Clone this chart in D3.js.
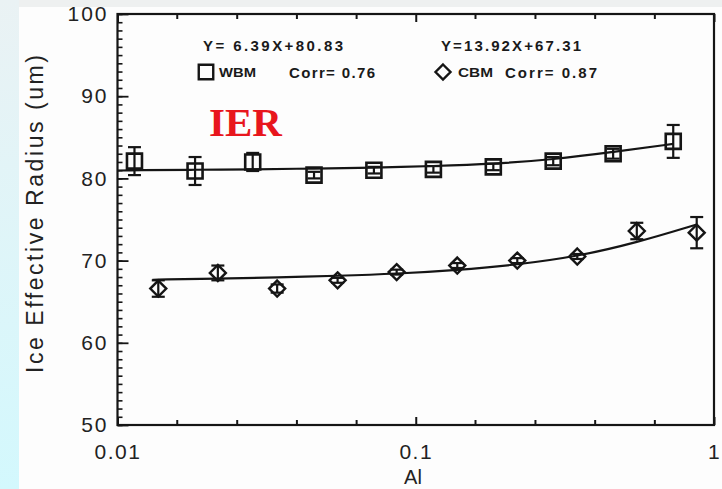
<!DOCTYPE html>
<html>
<head>
  <meta charset="utf-8">
  <script src="https://d3js.org/d3.v7.min.js"></script>
  <style>
    body { margin: 0; background: #fff; }
    svg { display: block; }
  </style>
</head>

<body>
  <svg id="chart"></svg>

  <script>
    // data
    let wbmX = [0.0114, 0.0182, 0.0284, 0.0456, 0.0724, 0.1146, 0.182, 0.289, 0.459, 0.730];
    let wbmY = [82.1, 80.9, 82.0, 80.4, 81.0, 81.1, 81.4, 82.1, 83.0, 84.5];
    let wbmErr = [1.7, 1.7, 1.1, 0.4, 0.4, 0.4, 0.4, 0.5, 0.6, 2.0];
    let wbmFitX = [0.01, 0.0114, 0.0182, 0.0284, 0.0456, 0.0724, 0.1146, 0.182, 0.289, 0.459, 0.730];
    let wbmFitY = [80.95, 81.0, 81.05, 81.1, 81.2, 81.3, 81.5, 81.75, 82.3, 83.2, 84.2];

    let cbmX = [0.0137, 0.0217, 0.0343, 0.0547, 0.0863, 0.1378, 0.219, 0.348, 0.551, 0.875];
    let cbmY = [66.6, 68.5, 66.6, 67.6, 68.6, 69.4, 70.0, 70.5, 73.6, 73.4];
    let cbmErr = [1.0, 0.9, 0.5, 0.3, 0.3, 0.3, 0.3, 0.3, 1.0, 1.9];
    let cbmFitX = [0.0131, 0.0137, 0.0217, 0.0343, 0.0547, 0.0863, 0.1378, 0.219, 0.348, 0.551, 0.875];
    let cbmFitY = [67.65, 67.7, 67.8, 67.95, 68.15, 68.4, 68.85, 69.5, 70.5, 72.2, 74.4];

    // tick values and labels
    let xTicks = [0.01, 0.0158, 0.0251, 0.0398, 0.0631, 0.1, 0.158, 0.251, 0.398, 0.631, 1];
    let xLabels = { 0.01: "0.01", 0.1: "0.1", 1: "1" };
    let yMajor = [50, 60, 70, 80, 90, 100];
    let yMinor = d3.range(50, 101, 1);

    // legend texts
    let wbmEq = "Y= 6.39X+80.83", cbmEq = "Y=13.92X+67.31";
    let wbmCorr = "Corr= 0.76", cbmCorr = "Corr= 0.87";

    let width = 722, height = 489;
    let svg = d3.select("#chart").attr("width", width).attr("height", height);

    // page background: grey strip at top, cyan strip at left
    let defs = svg.append("defs");
    let grad = defs.append("linearGradient").attr("id", "side")
      .attr("x1", 0).attr("y1", 0).attr("x2", 0).attr("y2", 1);
    grad.append("stop").attr("offset", "0%").attr("stop-color", "#eaf2f4");
    grad.append("stop").attr("offset", "100%").attr("stop-color", "#d3f8fd");

    svg.append("rect").attr("width", width).attr("height", height).attr("fill", "#fdfdfd");
    svg.append("rect").attr("width", width).attr("height", 7).attr("fill", "#eef0f0");
    svg.append("rect").attr("width", 19).attr("height", height).attr("fill", "url(#side)");

    // scales
    let x = d3.scaleLog().domain([0.01, 1]).range([117.5, 714]);
    let y = d3.scaleLinear().domain([50, 100]).range([425, 14]);

    let ink = "#151515";
    let tickFont = "'Liberation Sans', Arial, sans-serif";

    // left axis: minor then major ticks, pointing inward
    svg.append("g").attr("transform", `translate(${x.range()[0]},0)`)
      .call(d3.axisLeft(y).tickValues(yMinor).tickSize(-5).tickFormat(""))
      .call(g => g.select(".domain").remove())
      .call(g => g.selectAll("line").attr("stroke", ink).attr("stroke-width", 1.6));

    svg.append("g").attr("transform", `translate(${x.range()[0]},0)`)
      .call(d3.axisLeft(y).tickValues(yMajor).tickSize(-11).tickPadding(9).tickFormat(d3.format("d")))
      .call(g => g.select(".domain").remove())
      .call(g => g.selectAll("line").attr("stroke", ink).attr("stroke-width", 1.8))
      .call(g => g.selectAll("text").attr("fill", "#222").style("font-family", tickFont)
        .style("font-size", "21px").style("letter-spacing", "2px"));

    // bottom axis
    svg.append("g").attr("transform", `translate(0,${y.range()[0]})`)
      .call(d3.axisBottom(x).tickValues(xTicks).tickSize(-5).tickPadding(19)
        .tickFormat(d => xLabels[d] || ""))
      .call(g => g.select(".domain").remove())
      .call(g => g.selectAll("line").attr("stroke", ink).attr("stroke-width", 2)
        .attr("y2", d => xLabels[d] ? -8 : -5))
      .call(g => g.selectAll("text").attr("fill", "#222").style("font-family", tickFont)
        .style("font-size", "21px").style("letter-spacing", "1.5px"));

    // top axis, ticks only
    svg.append("g").attr("transform", `translate(0,${y.range()[1]})`)
      .call(d3.axisTop(x).tickValues(xTicks).tickSize(-5).tickFormat(""))
      .call(g => g.select(".domain").remove())
      .call(g => g.selectAll("line").attr("stroke", ink).attr("stroke-width", 2)
        .attr("y2", d => xLabels[d] ? 8 : 5));

    // plot frame
    svg.append("rect")
      .attr("x", x.range()[0]).attr("y", y.range()[1])
      .attr("width", x.range()[1] - x.range()[0])
      .attr("height", y.range()[0] - y.range()[1])
      .attr("fill", "none").attr("stroke", ink).attr("stroke-width", 2.2);

    // axis titles
    svg.append("text")
      .attr("transform", "translate(43,214) rotate(-90)")
      .attr("text-anchor", "middle")
      .attr("textLength", 318).attr("lengthAdjust", "spacing")
      .attr("fill", "#222").style("font-family", tickFont).style("font-size", "23px")
      .text("Ice Effective Radius (um)");

    svg.append("text")
      .attr("x", 413).attr("y", 484)
      .attr("text-anchor", "middle")
      .attr("fill", "#222").style("font-family", tickFont).style("font-size", "20px")
      .text("Al");

    // fit curves
    let fitLine = d3.line().x(d => x(d[0])).y(d => y(d[1])).curve(d3.curveBasis);
    let plot = svg.append("g");

    plot.append("path").datum(d3.zip(wbmFitX, wbmFitY))
      .attr("d", fitLine).attr("fill", "none").attr("stroke", ink).attr("stroke-width", 2.2);
    plot.append("path").datum(d3.zip(cbmFitX, cbmFitY))
      .attr("d", fitLine).attr("fill", "none").attr("stroke", ink).attr("stroke-width", 2.2);

    // error bars
    function errorBars(xs, ys, es) {
      let g = plot.append("g").attr("stroke", ink).attr("stroke-width", 2.2);
      let pts = d3.zip(xs, ys, es);
      g.selectAll(".v").data(pts).enter().append("line")
        .attr("x1", d => x(d[0])).attr("x2", d => x(d[0]))
        .attr("y1", d => y(d[1] + d[2])).attr("y2", d => y(d[1] - d[2]));
      g.selectAll(".t").data(pts).enter().append("line")
        .attr("x1", d => x(d[0]) - 6.5).attr("x2", d => x(d[0]) + 6.5)
        .attr("y1", d => y(d[1] + d[2])).attr("y2", d => y(d[1] + d[2]));
      g.selectAll(".b").data(pts).enter().append("line")
        .attr("x1", d => x(d[0]) - 6.5).attr("x2", d => x(d[0]) + 6.5)
        .attr("y1", d => y(d[1] - d[2])).attr("y2", d => y(d[1] - d[2]));
    }
    errorBars(wbmX, wbmY, wbmErr);
    errorBars(cbmX, cbmY, cbmErr);

    // markers
    let square = d3.symbol().type(d3.symbolSquare).size(225);
    let diamond = "M0,-8L8,0L0,8L-8,0Z";

    plot.selectAll(".sq").data(d3.zip(wbmX, wbmY)).enter().append("path")
      .attr("d", square)
      .attr("transform", d => `translate(${x(d[0])},${y(d[1])})`)
      .attr("fill", "none").attr("stroke", ink).attr("stroke-width", 2.6);

    plot.selectAll(".dm").data(d3.zip(cbmX, cbmY)).enter().append("path")
      .attr("d", diamond)
      .attr("transform", d => `translate(${x(d[0])},${y(d[1])})`)
      .attr("fill", "none").attr("stroke", ink).attr("stroke-width", 2.4);

    // legend
    let legFont = "'Liberation Sans', Arial, sans-serif";
    let leg = svg.append("g").attr("fill", "#1a1a1a").style("font-family", legFont)
      .style("font-weight", "bold");

    leg.append("text").attr("x", 203).attr("y", 51).attr("textLength", 140)
      .attr("lengthAdjust", "spacing").style("font-size", "15px").text(wbmEq);
    leg.append("text").attr("x", 441).attr("y", 51).attr("textLength", 140)
      .attr("lengthAdjust", "spacing").style("font-size", "15px").text(cbmEq);

    leg.append("path").attr("d", d3.symbol().type(d3.symbolSquare).size(210))
      .attr("transform", "translate(206,72)")
      .attr("fill", "none").attr("stroke", ink).attr("stroke-width", 2.4);
    leg.append("text").attr("x", 219).attr("y", 77).attr("textLength", 37)
      .attr("lengthAdjust", "spacingAndGlyphs").style("font-size", "13px").text("WBM");
    leg.append("text").attr("x", 289).attr("y", 78).attr("textLength", 86)
      .attr("lengthAdjust", "spacing").style("font-size", "15px").text(wbmCorr);

    leg.append("path").attr("d", "M0,-7.5L7.5,0L0,7.5L-7.5,0Z")
      .attr("transform", "translate(443,72)")
      .attr("fill", "none").attr("stroke", ink).attr("stroke-width", 2.4);
    leg.append("text").attr("x", 458).attr("y", 77).attr("textLength", 35)
      .attr("lengthAdjust", "spacingAndGlyphs").style("font-size", "13px").text("CBM");
    leg.append("text").attr("x", 505).attr("y", 78).attr("textLength", 92)
      .attr("lengthAdjust", "spacing").style("font-size", "15px").text(cbmCorr);

    // red panel tag
    svg.append("text")
      .attr("x", 209).attr("y", 136)
      .attr("fill", "#e8161d")
      .style("font-family", "'Liberation Serif', 'Times New Roman', serif")
      .style("font-weight", "bold").style("font-size", "41px")
      .text("IER");
  </script>
</body>
</html>
